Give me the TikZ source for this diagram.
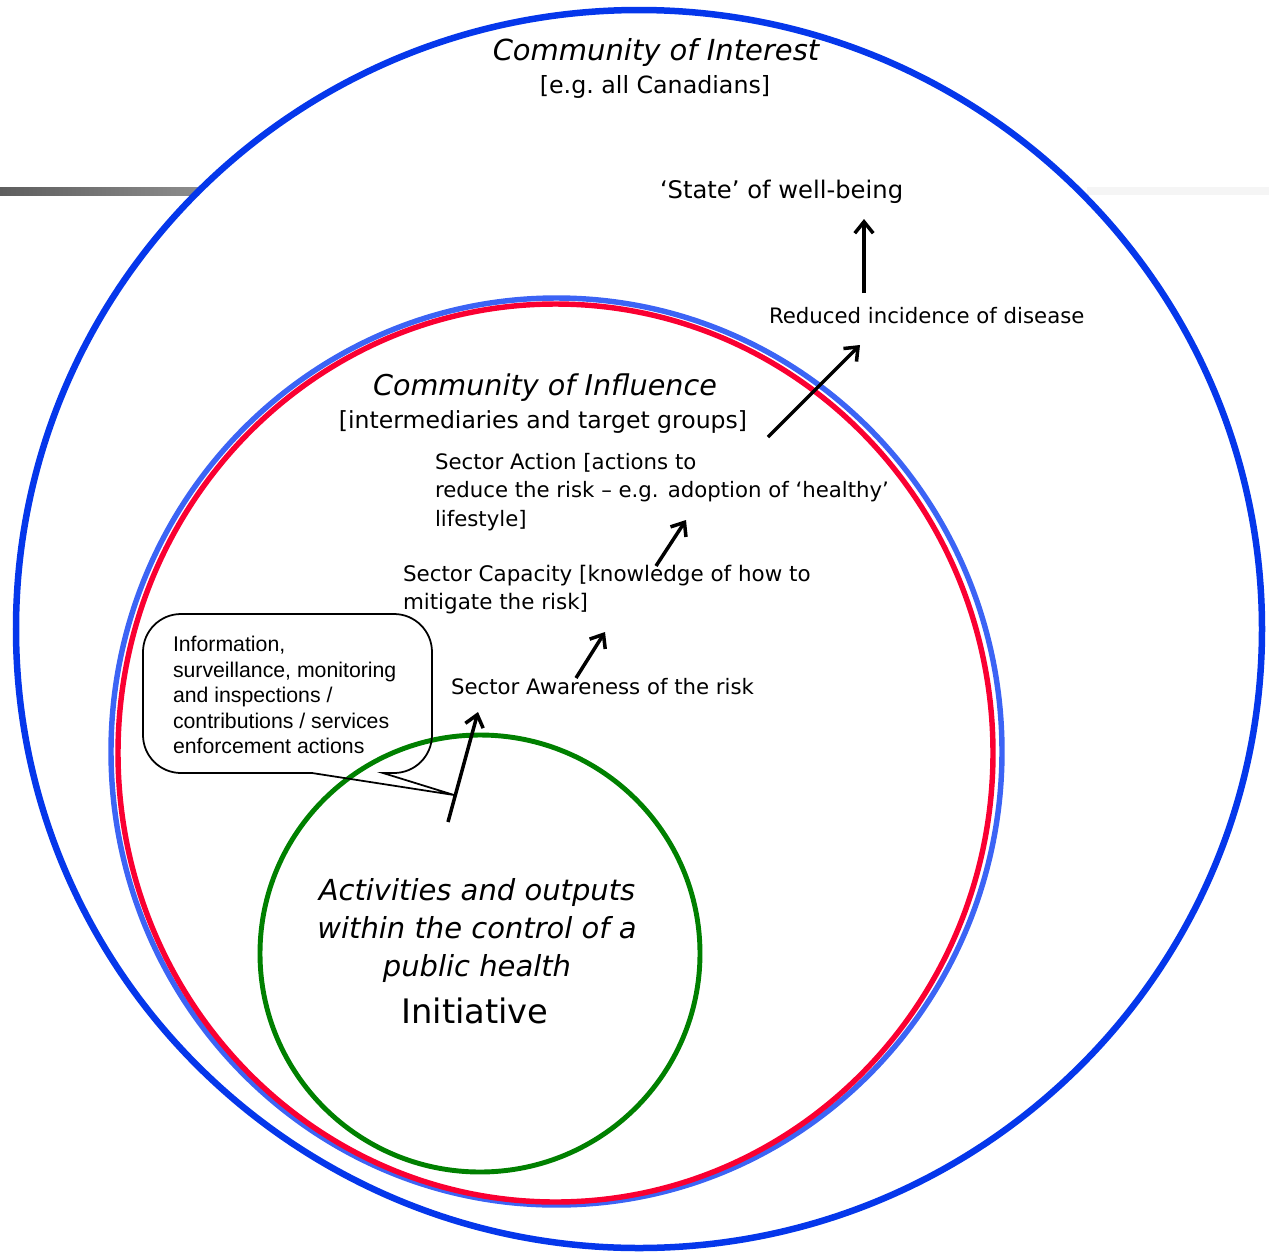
\documentclass[tikz,border=0pt]{standalone}
\usepackage{fontspec}
\setmainfont{DejaVu Sans}
\newfontfamily\calloutfont{Liberation Sans}
\usetikzlibrary{arrows.meta}
\definecolor{outerblue}{RGB}{5,55,235}
\definecolor{inflblue}{RGB}{60,100,245}
\definecolor{inflred}{RGB}{250,0,50}
\definecolor{ctrlgreen}{RGB}{0,128,0}
\definecolor{bargraydark}{RGB}{94,94,94}
\definecolor{bargraylight}{RGB}{140,140,140}
\definecolor{barfaint}{RGB}{245,245,245}
\newcommand\fsz[2]{\fontsize{#1pt}{#2pt}\selectfont}
\begin{document}
\begin{tikzpicture}[x=0.02cm,y=-0.02cm,
  txt/.style={inner sep=0pt, outer sep=0pt, text=black},
  flow/.style={line width=2pt, -{Straight Barb[length=6.5pt,width=10.5pt]}},
  callout/.style={line width=1pt, draw=black}
]
\useasboundingbox (0,0) rectangle (1269,1255);
% decorative bars
\shade[left color=bargraydark, right color=bargraylight] (0,187) rectangle (199,195);
\fill[barfaint] (1087,187) rectangle (1269,195);
% circles
\draw[outerblue, line width=3.7pt] (639,629) ellipse [x radius=623, y radius=619];
\draw[inflblue, line width=3.1pt] (556.5,751.5) ellipse [x radius=445.5, y radius=453.5];
\draw[inflred, line width=3.1pt] (555.5,753) ellipse [x radius=437.5, y radius=449];
\draw[ctrlgreen, line width=2.8pt] (480,953.5) ellipse [x radius=220, y radius=218.5];
% texts
\node[txt, font=\fsz{16.5}{20}\itshape] (interest) at (656,52) {Community of Interest};
\node[txt, font=\fsz{13.5}{16}] (interestsub) at (655,87) {[e.g.\ all Canadians]};
\node[txt, font=\fsz{13.8}{16}, anchor=west] (state) at (660,192) {‘State’ of well-being};
\node[txt, font=\fsz{12.1}{16}, anchor=west] (reduced) at (769,316) {Reduced incidence of disease};
\node[txt, font=\fsz{16.3}{20}\itshape] (influence) at (545,388) {Community of Influence};
\node[txt, font=\fsz{13.4}{16}] (influencesub) at (543,422) {[intermediaries and target groups]};
\node[txt, font=\fsz{12.1}{16.2}, anchor=west, align=left] (action) at (435,492)
  {Sector Action [actions to\\reduce the risk – e.g. adoption of ‘healthy’\\lifestyle]};
\node[txt, font=\fsz{12.2}{16.2}, anchor=west, align=left] (capacity) at (403,589.5)
  {Sector Capacity [knowledge of how to\\mitigate the risk]};
\node[txt, font=\fsz{12.1}{16}, anchor=west] (awareness) at (451,687) {Sector Awareness of the risk};
\node[txt, font=\calloutfont\fsz{12.1}{14.5}, anchor=west, align=left] (callouttext) at (173,695)
  {Information,\\surveillance, monitoring\\and inspections /\\contributions / services\\enforcement actions};
\node[txt, font=\fsz{16.5}{21.8}\itshape, align=center] (activities) at (477,930.5)
  {Activities and outputs\\within the control of a\\public health};
\node[txt, font=\fsz{19.2}{22}] (initiative) at (475,1011) {Initiative};
% arrow end points
\coordinate (a1s) at (448,822); \coordinate (a1e) at (478,712);
\coordinate (a2s) at (576,678); \coordinate (a2e) at (605,632);
\coordinate (a3s) at (656,566); \coordinate (a3e) at (686,520);
\coordinate (a4s) at (768,437); \coordinate (a4e) at (860,345);
\coordinate (a5s) at (864,293); \coordinate (a5e) at (864,219);
\draw[flow] (a1s) -- (a1e);
\draw[flow] (a2s) -- (a2e);
\draw[flow] (a3s) -- (a3e);
\draw[flow] (a4s) -- (a4e);
\draw[flow] (a5s) -- (a5e);
% callout outline
\coordinate (ptip) at (454,795);
\draw[callout] (312,773) -- (ptip) -- (383,773) -- (394,773)
  .. controls (415,773) and (432,756) .. (432,735) -- (432,652)
  .. controls (432,631) and (415,614) .. (394,614) -- (181,614)
  .. controls (160,614) and (143,631) .. (143,652) -- (143,735)
  .. controls (143,756) and (160,773) .. (181,773) -- cycle;
\end{tikzpicture}
\end{document}
